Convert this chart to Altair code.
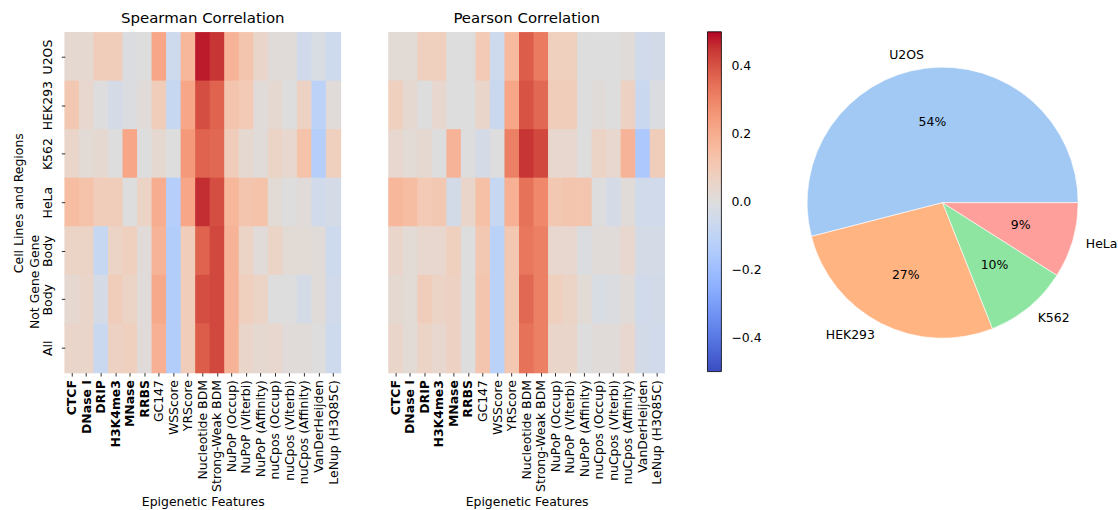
import json
import math

import altair as alt
import pandas as pd

FONT = "DejaVu Sans"

features = [
    "CTCF", "DNase I", "DRIP", "H3K4me3", "MNase", "RRBS", "GC147", "WSScore",
    "YRScore", "Nucleotide BDM", "Strong-Weak BDM", "NuPoP (Occup)",
    "NuPoP (Viterbi)", "NuPoP (Affinity)", "nuCpos (Occup)", "nuCpos (Viterbi)",
    "nuCpos (Affinity)", "VanDerHeijden", "LeNup (H3Q85C)",
]
bold_features = ["CTCF", "DNase I", "DRIP", "H3K4me3", "MNase", "RRBS"]
groups = ["U2OS", "HEK293", "K562", "HeLa", "Gene Body", "Not Gene Body", "All"]

# Spearman correlation, one list per row, columns in `features` order
sp_u2os = [0.03, 0.03, 0.09, 0.09, -0.01, 0.00, 0.22, -0.06, 0.17, 0.48, 0.45, 0.18, 0.12, 0.05, 0.01, 0.01, -0.05, -0.02, -0.06]
sp_hek293 = [0.11, 0.04, 0.00, -0.03, -0.01, 0.01, 0.09, -0.08, 0.22, 0.41, 0.37, 0.12, 0.10, 0.01, 0.03, 0.00, 0.07, -0.11, 0.01]
sp_k562 = [0.05, 0.02, 0.03, 0.00, 0.22, 0.00, 0.03, 0.00, 0.25, 0.37, 0.36, 0.09, 0.03, 0.01, 0.06, 0.04, 0.13, -0.13, 0.08]
sp_hela = [0.15, 0.13, 0.09, 0.09, 0.00, 0.06, 0.20, -0.13, 0.22, 0.46, 0.41, 0.17, 0.12, 0.13, 0.02, 0.00, 0.01, -0.05, -0.03]
sp_gene = [0.06, 0.06, -0.08, 0.06, 0.08, 0.01, 0.18, -0.14, 0.09, 0.37, 0.42, 0.18, 0.06, 0.01, 0.06, 0.02, 0.02, 0.01, -0.06]
sp_notgene = [0.03, 0.05, -0.03, 0.09, 0.06, 0.01, 0.21, -0.14, 0.09, 0.41, 0.42, 0.18, 0.08, 0.06, 0.00, 0.00, -0.03, 0.01, -0.05]
sp_all = [0.05, 0.05, -0.07, 0.07, 0.08, 0.01, 0.19, -0.14, 0.09, 0.38, 0.42, 0.18, 0.05, 0.03, 0.04, 0.01, 0.01, 0.00, -0.06]

# Pearson correlation, same layout
pe_u2os = [0.02, 0.02, 0.08, 0.08, 0.00, 0.00, 0.10, -0.06, 0.16, 0.38, 0.32, 0.08, 0.08, 0.00, 0.00, 0.00, 0.01, -0.05, -0.04]
pe_hek293 = [0.08, 0.03, 0.00, 0.04, 0.00, 0.00, 0.05, -0.07, 0.22, 0.40, 0.36, 0.09, 0.09, 0.00, 0.01, 0.00, 0.07, -0.07, -0.01]
pe_k562 = [0.04, 0.02, 0.03, 0.00, 0.18, 0.00, -0.03, 0.00, 0.31, 0.45, 0.42, 0.04, 0.04, 0.00, 0.06, 0.04, 0.18, -0.16, 0.09]
pe_hela = [0.17, 0.15, 0.10, 0.11, -0.04, 0.05, 0.14, -0.08, 0.19, 0.34, 0.29, 0.11, 0.12, 0.12, 0.00, -0.03, 0.01, -0.05, -0.05]
pe_gene = [0.05, 0.02, 0.04, 0.04, 0.08, 0.00, 0.11, -0.12, 0.11, 0.33, 0.31, 0.04, 0.04, -0.01, 0.01, 0.01, 0.04, -0.03, -0.03]
pe_notgene = [0.03, 0.02, 0.09, 0.06, 0.07, 0.00, 0.12, -0.12, 0.11, 0.36, 0.31, 0.08, 0.06, 0.02, -0.02, -0.01, 0.01, -0.05, -0.04]
pe_all = [0.05, 0.02, 0.06, 0.04, 0.07, 0.00, 0.12, -0.12, 0.11, 0.34, 0.31, 0.05, 0.05, 0.00, 0.01, 0.01, 0.04, -0.04, -0.05]

spearman_rows = [sp_u2os, sp_hek293, sp_k562, sp_hela, sp_gene, sp_notgene, sp_all]
pearson_rows = [pe_u2os, pe_hek293, pe_k562, pe_hela, pe_gene, pe_notgene, pe_all]

# Share of samples per cell line
pie_cells = ["U2OS", "HEK293", "K562", "HeLa"]
pie_share = [54, 27, 10, 9]
pie_colors = ["#a1c9f4", "#ffb482", "#8de5a1", "#ff9f9b"]
pie_order = [4, 3, 2, 1]  # clockwise stacking order, starting at 3 o'clock

# coolwarm diverging colormap stops
coolwarm = [
    "#3b4cc0", "#445acc", "#4d68d7", "#5775e1", "#6282ea", "#6c8ef1", "#779af7",
    "#82a5fb", "#8db0fe", "#98b9ff", "#a3c2ff", "#aec9fd", "#b8d0f9", "#c2d5f4",
    "#ccd9ee", "#d5dbe6", "#dddddd", "#e5d8d1", "#ecd3c5", "#f1ccb8", "#f5c4ac",
    "#f7bba0", "#f7b194", "#f7a687", "#f49a7b", "#f18d6f", "#ec7f63", "#e57058",
    "#de604d", "#d55042", "#cb3e38", "#c0282f", "#b40426",
]
color_domain = [-0.5 + i / (len(coolwarm) - 1) for i in range(len(coolwarm))]


def long_table(rows):
    recs = []
    for g, vals in zip(groups, rows):
        for f, v in zip(features, vals):
            recs.append({"group": g, "feature": f, "value": v})
    return pd.DataFrame(recs)


color_scale = alt.Scale(domain=color_domain, range=coolwarm, interpolate="rgb", clamp=True)

# colour bar, positioned relative to the first heatmap's plot area
colorbar = alt.Legend(
    orient="none",
    legendX=645,
    legendY=-1,
    direction="vertical",
    gradientLength=341,
    gradientThickness=14,
    gradientStrokeColor="black",
    gradientStrokeWidth=0.8,
    values=[-0.4, -0.2, 0.0, 0.2, 0.4],
    labelExpr="replace(format(datum.value, '.1f'), '-', '\u2212')",
    labelFont=FONT,
    labelFontSize=12.5,
    labelColor="black",
    labelOffset=10,
    labelOverlap=False,
    padding=0,
)

bold_test = "indexof(" + json.dumps(bold_features) + ", datum.value) >= 0"

x_axis = alt.Axis(
    labelAngle=270,
    labelAlign="right",
    labelBaseline="middle",
    labelPadding=3.5,
    titlePadding=4,
    labelFontWeight={"condition": {"test": bold_test, "value": "bold"}, "value": "normal"},
)

# Rotated row labels: every label takes two lines so the last line sits next to the ticks
y_axis = alt.Axis(
    labelAngle=270,
    labelAlign="center",
    labelBaseline="bottom",
    labelPadding=20,
    labelLineHeight=13,
    titlePadding=3,
    labelExpr=(
        "datum.value == 'Gene Body' ? ['Gene', 'Body'] : "
        "datum.value == 'Not Gene Body' ? ['Not Gene', 'Body'] : ['', datum.value]"
    ),
)


def heatmap(rows, title, show_y):
    y_kwargs = {"axis": y_axis} if show_y else {"axis": None}
    return (
        alt.Chart(
            long_table(rows),
            title=alt.TitleParams(
                title, font=FONT, fontSize=15, fontWeight="normal", color="black", offset=6
            ),
        )
        # cells are a hair larger than their band so neighbours leave no seams
        .mark_rect(
            width=alt.RelativeBandSize(band=1.05),
            height=alt.RelativeBandSize(band=1.03),
        )
        .encode(
            x=alt.X(
                "feature:N",
                sort=features,
                title="Epigenetic Features",
                scale=alt.Scale(paddingInner=0, paddingOuter=0),
                axis=x_axis,
            ),
            y=alt.Y(
                "group:N",
                sort=groups,
                title="Cell Lines and Regions",
                scale=alt.Scale(paddingInner=0, paddingOuter=0),
                **y_kwargs,
            ),
            color=alt.Color("value:Q", scale=color_scale, legend=colorbar, title=None),
        )
        .properties(width=277, height=341)
    )


spearman = heatmap(spearman_rows, "Spearman Correlation", True)
pearson = heatmap(pearson_rows, "Pearson Correlation", False)

# Pie chart of cell-line shares
pie_df = pd.DataFrame({"cell": pie_cells, "share": pie_share, "order": pie_order})
theta_scale = alt.Scale(domain=[0, 100], range=[math.pi / 2, math.pi / 2 + 2 * math.pi])
R = 136

pie_base = (
    alt.Chart(pie_df)
    .transform_stack(
        stack="share",
        groupby=[],
        as_=["s0", "s1"],
        sort=[alt.SortField("order", order="ascending")],
    )
    .transform_calculate(
        mid="(datum.s0 + datum.s1) / 2",
        pct="datum.share + '%'",
        east="sin(PI / 2 + datum.mid / 100 * 2 * PI) > 0",
    )
)

arcs = pie_base.mark_arc(outerRadius=R, stroke="white", strokeWidth=0.6).encode(
    theta=alt.Theta("s0:Q", scale=theta_scale),
    theta2="s1:Q",
    fill=alt.Fill("cell:N", scale=alt.Scale(domain=pie_cells, range=pie_colors), legend=None),
)

text_style = dict(font=FONT, fontSize=12.5, color="black", baseline="middle")

names_east = (
    pie_base.transform_filter("datum.east")
    .mark_text(radius=R * 1.1, align="left", **text_style)
    .encode(theta=alt.Theta("mid:Q", scale=theta_scale), text="cell:N")
)
names_west = (
    pie_base.transform_filter("!datum.east")
    .mark_text(radius=R * 1.1, align="right", **text_style)
    .encode(theta=alt.Theta("mid:Q", scale=theta_scale), text="cell:N")
)
pcts = pie_base.mark_text(radius=R * 0.6, align="center", **text_style).encode(
    theta=alt.Theta("mid:Q", scale=theta_scale), text="pct:N"
)

pie = alt.layer(arcs, names_east, names_west, pcts).properties(width=352, height=341)

heatmaps = alt.hconcat(spearman, pearson, spacing=46)

chart = (
    alt.hconcat(heatmaps, pie, spacing=102)
    .properties(padding={"left": 12, "top": 10, "right": 0, "bottom": 0})
    .configure_view(stroke=None)
    .configure_axis(
        labelFont=FONT,
        titleFont=FONT,
        labelFontSize=12.5,
        titleFontSize=12.5,
        titleFontWeight="normal",
        labelColor="black",
        titleColor="black",
        tickColor="black",
        tickSize=3.5,
        tickWidth=0.8,
        domain=False,
        grid=False,
    )
)

chart.save("out.html", embed_options={"renderer": "svg", "actions": False})
